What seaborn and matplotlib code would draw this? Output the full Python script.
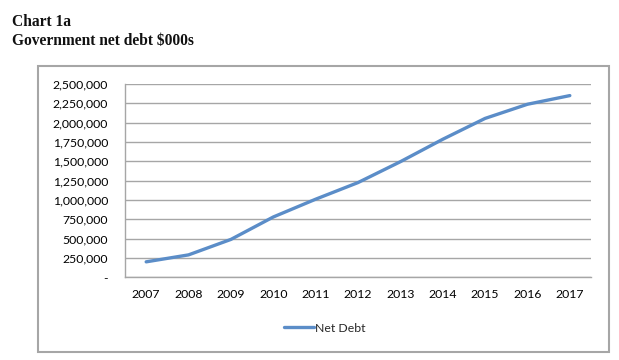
import matplotlib
matplotlib.use("Agg")
import matplotlib.pyplot as plt
from matplotlib.patches import Rectangle
from matplotlib.ticker import FuncFormatter
import seaborn as sns
import pandas as pd

years = ["2007", "2008", "2009", "2010", "2011", "2012", "2013", "2014", "2015", "2016", "2017"]
net_debt = [200000, 290000, 490000, 780000, 1010000, 1225000, 1495000, 1785000, 2055000, 2238000, 2350000]
series_name = "Net Debt"
y_ticks = [0, 250000, 500000, 750000, 1000000, 1250000, 1500000, 1750000, 2000000, 2250000, 2500000]

df = pd.DataFrame({"Year": years, series_name: net_debt})

sns.set_style("white")
plt.rcParams["font.family"] = ["Lato", "DejaVu Sans"]

fig = plt.figure(figsize=(6.19, 3.6), dpi=100)
W, H = 619, 360
ax = fig.add_axes([125 / W, 1 - 277.3 / H, (591 - 125) / W, (277.3 - 84) / H])

line_color = "#5B8DC8"
sns.lineplot(data=df, x="Year", y=series_name, ax=ax, color=line_color,
             linewidth=2.4, label=series_name, sort=False)

ax.set_xlim(-0.5, len(years) - 0.5)
ax.set_ylim(0, 2500000)
ax.set_yticks(y_ticks)
ax.yaxis.set_major_formatter(FuncFormatter(lambda v, p: "-" if v == 0 else f"{int(v):,}"))
ax.grid(axis="y", color="#A6A6A6", linewidth=1.0)
ax.grid(axis="x", visible=False)
ax.set_axisbelow(True)
for s in ["top", "right"]:
    ax.spines[s].set_visible(False)
for s in ["left", "bottom"]:
    ax.spines[s].set_color("#A6A6A6")
    ax.spines[s].set_linewidth(1.0)
ax.tick_params(axis="y", length=0, pad=12.3, labelsize=8.8, labelcolor="#000000")
ax.tick_params(axis="x", length=0, pad=8.5, labelsize=8.8, labelcolor="#000000")
ax.set_xlabel("")
ax.set_ylabel("")

ax.get_legend().remove()
handles, labels = ax.get_legend_handles_labels()
fig.legend(handles, labels, loc="center", bbox_to_anchor=(325 / W, 1 - 328 / H),
           frameon=False, fontsize=8.8, handlelength=2.4, handletextpad=0.1)

fig.patches.append(Rectangle((38 / W, 1 - 352 / H), (609 - 38) / W, (352 - 65.7) / H,
                             transform=fig.transFigure, fill=False,
                             edgecolor="#A6A6A6", linewidth=1.5))

fig.text(12 / W, 1 - 21.5 / H, "Chart 1a", fontsize=11.2, fontweight="bold",
         family=["Liberation Serif", "DejaVu Serif"], va="center", ha="left", color="#111111")
fig.text(12 / W, 1 - 40.5 / H, "Government net debt $000s", fontsize=11.2, fontweight="bold",
         family=["Liberation Serif", "DejaVu Serif"], va="center", ha="left", color="#111111")

fig.savefig("out.png", dpi=100)
